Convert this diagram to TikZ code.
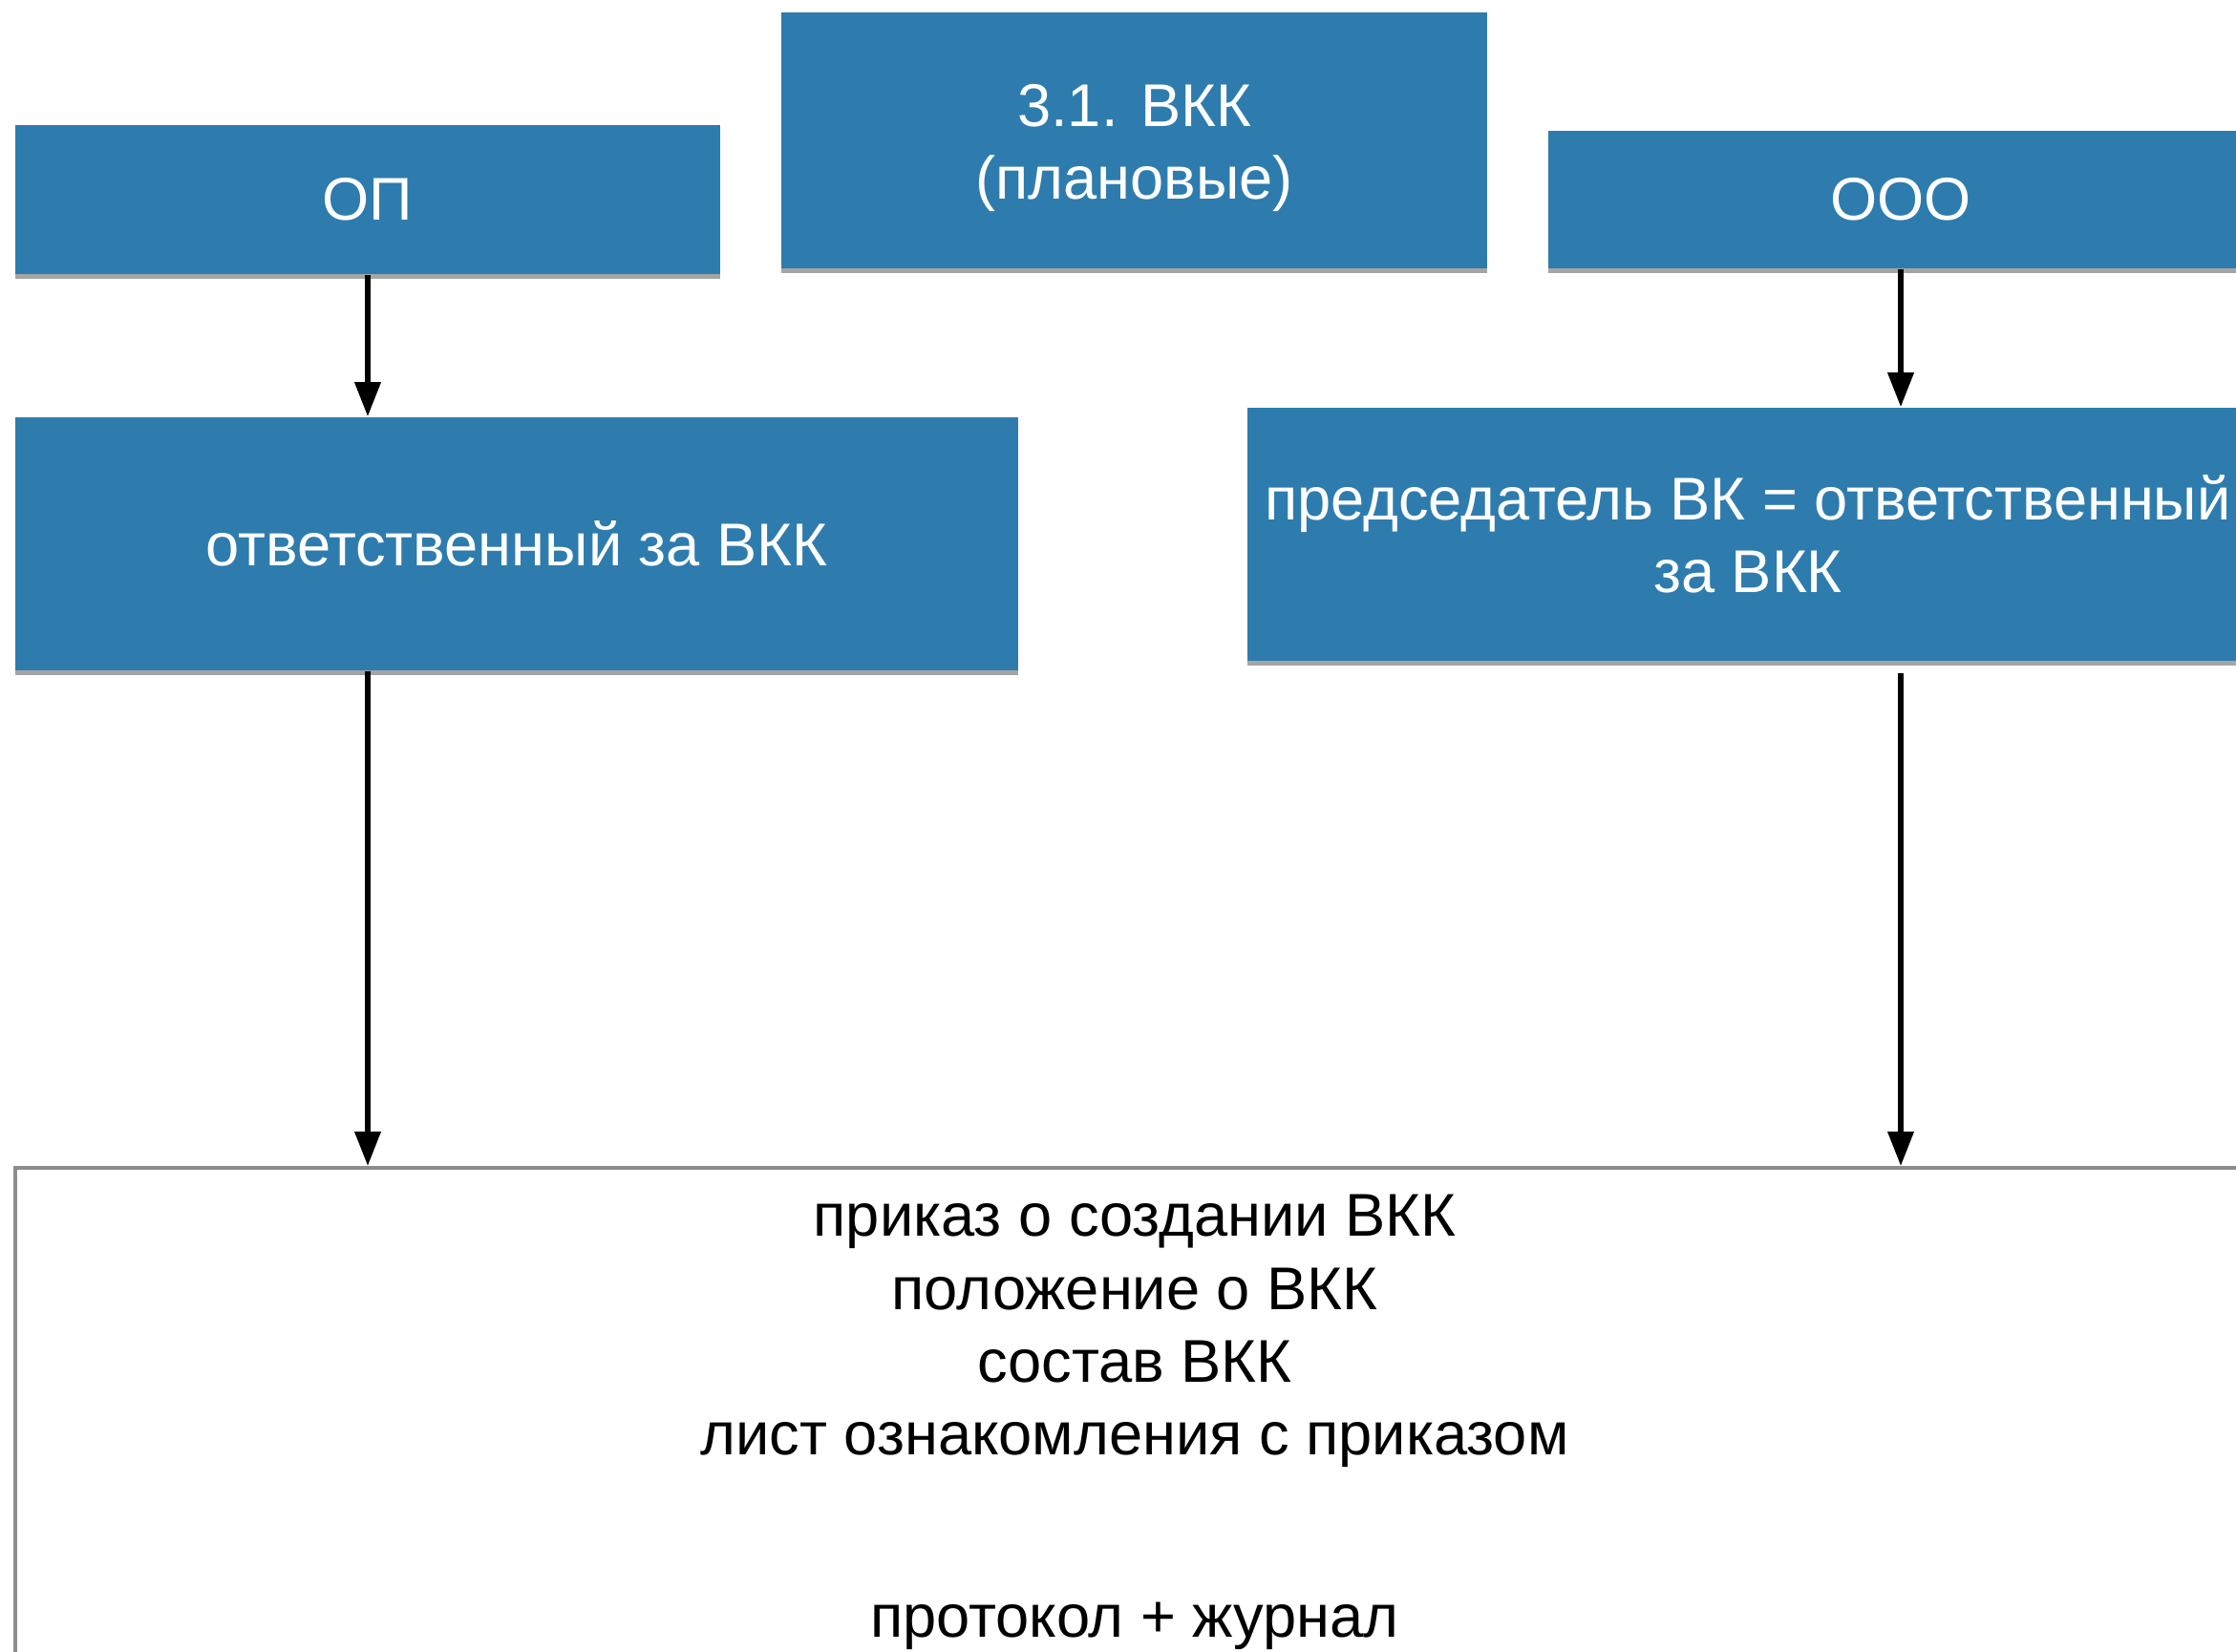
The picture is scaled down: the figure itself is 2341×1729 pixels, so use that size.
\documentclass[tikz,border=0pt]{standalone}
\usepackage{fontspec}
\setmainfont{Liberation Sans}
\usetikzlibrary{shadows,arrows.meta}
\definecolor{boxblue}{RGB}{46,124,174}
\definecolor{framegray}{RGB}{138,140,143}
\tikzset{
  bluebox/.style={fill=boxblue, draw=none, text=white, align=center,
    font=\fontsize{15.8}{19.1}\selectfont, inner sep=0pt,
    drop shadow={shadow xshift=0pt, shadow yshift=-1.3pt, opacity=0.5, fill=black!70}},
  plaintext/.style={align=center, font=\fontsize{15.8}{19.1}\selectfont, text=black, inner sep=0pt},
  framebox/.style={draw=framegray, line width=1pt, fill=white, inner sep=0pt},
  conn/.style={line width=1.4pt, -{Triangle[length=9pt,width=6.6pt]}}
}
\begin{document}
\begin{tikzpicture}[x=0.25pt,y=-0.25pt]
\path[use as bounding box, clip] (0,0) rectangle (2341,1729);
\fill[white] (0,0) rectangle (2341,1729);
\node[bluebox, minimum width=184.5pt, minimum height=39pt] (op) at (385,209) {ОП};
\node[bluebox, minimum width=184.75pt, minimum height=67pt] (vkk) at (1187.5,147) {};
\node[text=white, align=center, font=\fontsize{15.8}{19.1}\selectfont, inner sep=0pt] (vkkt) at (1187.5,155) {3.1. ВКК\\(плановые)};
\node[bluebox, minimum width=184.5pt, minimum height=36pt] (ooo) at (1990,209) {ООО};
\node[bluebox, minimum width=262.5pt, minimum height=66.25pt] (otv) at (541,569.5) {ответственный за ВКК};
\node[bluebox, minimum width=262pt, minimum height=66.25pt] (pred) at (1830,559.5) {председатель ВК = ответственный\\за ВКК};
\node[framebox, minimum width=586pt, minimum height=200pt, anchor=north] (docs) at (1188,1221) {};
\node[plaintext] (list) at (1188,1394) {приказ о создании ВКК\\положение о ВКК\\состав ВКК\\лист ознакомления с приказом};
\node[plaintext] (proto) at (1188,1703) {протокол + журнал};
\coordinate (a1) at (385,1221);
\coordinate (a2) at (1990,1221);
\draw[conn] (op.south -| a1) -- (otv.north -| a1);
\draw[conn] (otv.south -| a1) -- (a1);
\draw[conn] (ooo.south -| a2) -- (pred.north -| a2);
\draw[conn, shorten <=3pt] (pred.south -| a2) -- (a2);
\end{tikzpicture}
\end{document}
